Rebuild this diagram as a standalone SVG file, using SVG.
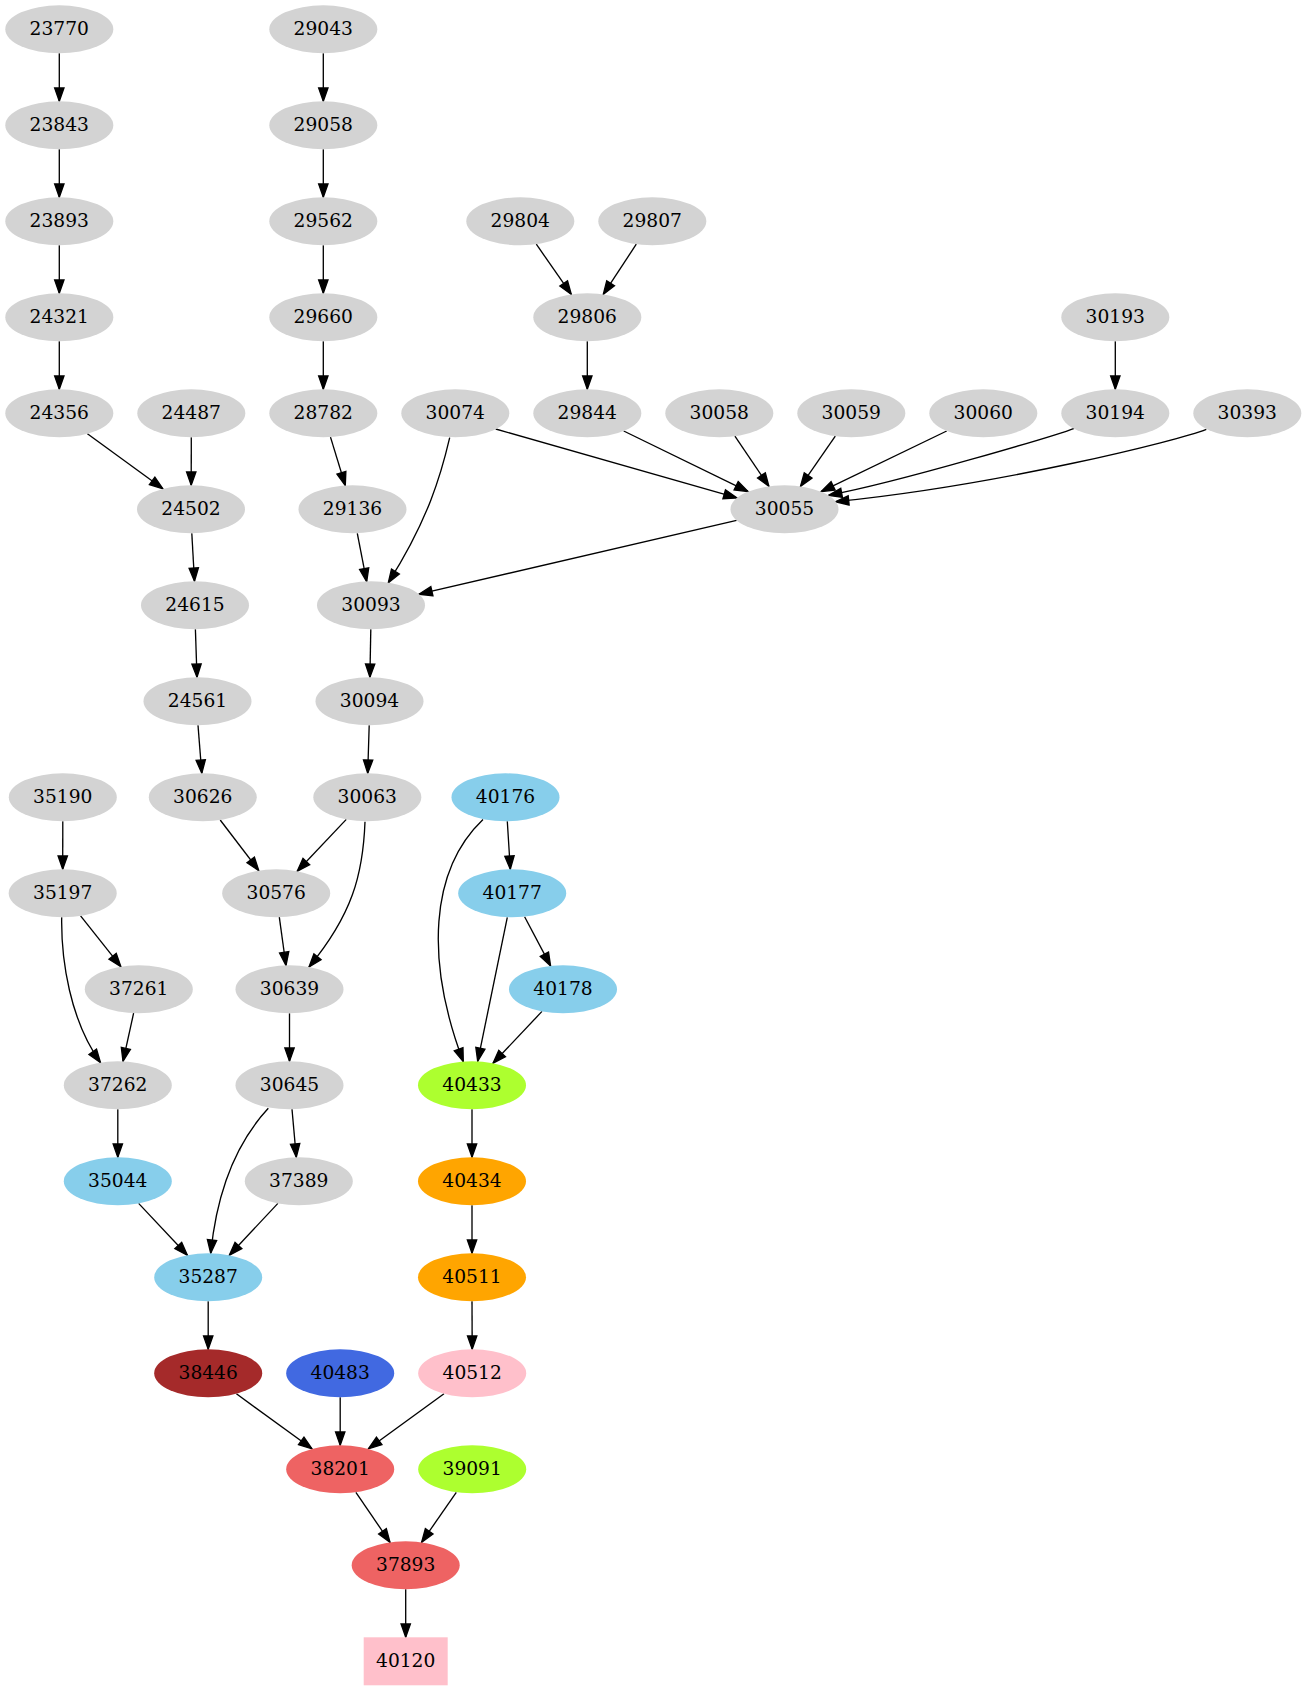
<svg xmlns="http://www.w3.org/2000/svg" width="1306" height="1691" viewBox="0 0 1306 1691">
<style>
.node text{font-family:"DejaVu Serif","Liberation Serif",serif;font-size:18.67px;text-anchor:middle;fill:#000}
.gray{fill:#d3d3d3}.sky{fill:#87ceeb}.lime{fill:#adff2f}.orange{fill:#ffa500}.pink{fill:#ffc0cb}.brown{fill:#a52a2a}.royal{fill:#4169e1}.red{fill:#ee6363}
#edges path{fill:none;stroke:#000;stroke-width:1.33;marker-end:url(#arr)}
</style>
<defs>
<marker id="arr" markerUnits="userSpaceOnUse" markerWidth="16" markerHeight="12" refX="13.33" refY="4.67" orient="auto" overflow="visible">
<path d="M0,0 L13.33,4.67 L0,9.33 Z" fill="#000" stroke="#000" stroke-width="1.33"/>
</marker>
</defs>
<rect width="1306" height="1691" fill="#fff"/>
<g id="edges">
<path d="M59.3,53.3 L59.3,101.3"/>
<path d="M59.3,149.3 L59.3,197.3"/>
<path d="M59.3,245.3 L59.3,293.3"/>
<path d="M59.3,341.3 L59.3,389.3"/>
<path d="M323.3,53.3 L323.3,101.3"/>
<path d="M323.3,149.3 L323.3,197.3"/>
<path d="M323.3,245.3 L323.3,293.3"/>
<path d="M323.3,341.3 L323.3,389.3"/>
<path d="M536.3,244.2 L571.3,294.4"/>
<path d="M636.3,244.2 L603.3,294.4"/>
<path d="M587.3,341.3 L587.3,389.3"/>
<path d="M1115.3,341.3 L1115.3,389.3"/>
<path d="M87.4,433.8 L162.9,488.8"/>
<path d="M191.3,437.3 L191.2,485.3"/>
<path d="M330.5,437.1 L345.3,485.5"/>
<path d="M449.7,437.7 C441,475 428,520 388.3,582.7"/>
<path d="M495.7,429 L737,497.9"/>
<path d="M623.7,431 L748.1,491.6"/>
<path d="M734.9,436.2 L768.9,486.4"/>
<path d="M835.3,436.2 L800.5,486.4"/>
<path d="M946.7,431 L821.1,491.6"/>
<path d="M1074.2,428.3 C1060,434 900,482 828.5,495.3"/>
<path d="M1206.3,429.3 C1180,440 1000,485 835.4,501.7"/>
<path d="M736.6,520.4 L418.9,594.2"/>
<path d="M357.3,533.3 L366.7,581.7"/>
<path d="M191.8,533.3 L194.5,581.3"/>
<path d="M195.4,629.3 L197,677.3"/>
<path d="M198,725.3 L201.8,773.3"/>
<path d="M370.8,629.3 L369.9,677.3"/>
<path d="M369.2,725.3 L367.7,773.3"/>
<path d="M220.2,820 L258.8,870.6"/>
<path d="M346.3,819.4 L297.2,871.2"/>
<path d="M365,821.7 C363,875 352,915 309,967"/>
<path d="M279.3,917.2 L286,965.5"/>
<path d="M62.8,821.3 L62.7,869.3"/>
<path d="M80.6,915.9 L120.9,966.7"/>
<path d="M61.7,917.3 C61,960 70,1020 100.5,1062.7"/>
<path d="M133.6,1013.2 L123,1061.4"/>
<path d="M289.5,1013.3 L289.5,1061.3"/>
<path d="M292,1109.3 L296.3,1157.3"/>
<path d="M268.3,1108.3 C236,1143 217,1190 210.7,1253.3"/>
<path d="M277.9,1203.4 L229.3,1255.2"/>
<path d="M117.8,1109.3 L117.8,1157.3"/>
<path d="M138.6,1203.4 L187.4,1255.2"/>
<path d="M507.3,821.3 L510.3,869.3"/>
<path d="M483,819.5 C430,870 425,960 463.3,1061.7"/>
<path d="M507.3,917.3 L477.7,1061.3"/>
<path d="M524.6,916.7 L550.6,965.9"/>
<path d="M542,1011.4 L493,1063.2"/>
<path d="M472,1109.3 L472,1157.3"/>
<path d="M472,1205.3 L472,1253.3"/>
<path d="M472,1301.3 L472.2,1349.3"/>
<path d="M208.2,1301.3 L208.2,1349.3"/>
<path d="M236.4,1393.8 L312,1448.8"/>
<path d="M340.2,1397.3 L340.2,1445.3"/>
<path d="M444,1393.8 L368.4,1448.8"/>
<path d="M355.9,1492.3 L390,1542.3"/>
<path d="M456.3,1492.3 L421.6,1542.3"/>
<path d="M405.7,1589.3 L405.7,1637.3"/>
</g>
<g id="n23770" class="node"><ellipse class="gray" cx="59.3" cy="29.3" rx="54" ry="24"/><text x="59.3" y="35.3">23770</text></g>
<g id="n29043" class="node"><ellipse class="gray" cx="323.3" cy="29.3" rx="54" ry="24"/><text x="323.3" y="35.3">29043</text></g>
<g id="n23843" class="node"><ellipse class="gray" cx="59.3" cy="125.3" rx="54" ry="24"/><text x="59.3" y="131.3">23843</text></g>
<g id="n29058" class="node"><ellipse class="gray" cx="323.3" cy="125.3" rx="54" ry="24"/><text x="323.3" y="131.3">29058</text></g>
<g id="n23893" class="node"><ellipse class="gray" cx="59.3" cy="221.3" rx="54" ry="24"/><text x="59.3" y="227.3">23893</text></g>
<g id="n29562" class="node"><ellipse class="gray" cx="323.3" cy="221.3" rx="54" ry="24"/><text x="323.3" y="227.3">29562</text></g>
<g id="n29804" class="node"><ellipse class="gray" cx="520.3" cy="221.3" rx="54" ry="24"/><text x="520.3" y="227.3">29804</text></g>
<g id="n29807" class="node"><ellipse class="gray" cx="652.3" cy="221.3" rx="54" ry="24"/><text x="652.3" y="227.3">29807</text></g>
<g id="n24321" class="node"><ellipse class="gray" cx="59.3" cy="317.3" rx="54" ry="24"/><text x="59.3" y="323.3">24321</text></g>
<g id="n29660" class="node"><ellipse class="gray" cx="323.3" cy="317.3" rx="54" ry="24"/><text x="323.3" y="323.3">29660</text></g>
<g id="n29806" class="node"><ellipse class="gray" cx="587.3" cy="317.3" rx="54" ry="24"/><text x="587.3" y="323.3">29806</text></g>
<g id="n30193" class="node"><ellipse class="gray" cx="1115.3" cy="317.3" rx="54" ry="24"/><text x="1115.3" y="323.3">30193</text></g>
<g id="n24356" class="node"><ellipse class="gray" cx="59.3" cy="413.3" rx="54" ry="24"/><text x="59.3" y="419.3">24356</text></g>
<g id="n24487" class="node"><ellipse class="gray" cx="191.3" cy="413.3" rx="54" ry="24"/><text x="191.3" y="419.3">24487</text></g>
<g id="n28782" class="node"><ellipse class="gray" cx="323.3" cy="413.3" rx="54" ry="24"/><text x="323.3" y="419.3">28782</text></g>
<g id="n30074" class="node"><ellipse class="gray" cx="455.3" cy="413.3" rx="54" ry="24"/><text x="455.3" y="419.3">30074</text></g>
<g id="n29844" class="node"><ellipse class="gray" cx="587.3" cy="413.3" rx="54" ry="24"/><text x="587.3" y="419.3">29844</text></g>
<g id="n30058" class="node"><ellipse class="gray" cx="719.3" cy="413.3" rx="54" ry="24"/><text x="719.3" y="419.3">30058</text></g>
<g id="n30059" class="node"><ellipse class="gray" cx="851.3" cy="413.3" rx="54" ry="24"/><text x="851.3" y="419.3">30059</text></g>
<g id="n30060" class="node"><ellipse class="gray" cx="983.3" cy="413.3" rx="54" ry="24"/><text x="983.3" y="419.3">30060</text></g>
<g id="n30194" class="node"><ellipse class="gray" cx="1115.3" cy="413.3" rx="54" ry="24"/><text x="1115.3" y="419.3">30194</text></g>
<g id="n30393" class="node"><ellipse class="gray" cx="1247.3" cy="413.3" rx="54" ry="24"/><text x="1247.3" y="419.3">30393</text></g>
<g id="n24502" class="node"><ellipse class="gray" cx="191" cy="509.3" rx="54" ry="24"/><text x="191" y="515.3">24502</text></g>
<g id="n29136" class="node"><ellipse class="gray" cx="352.5" cy="509.3" rx="54" ry="24"/><text x="352.5" y="515.3">29136</text></g>
<g id="n30055" class="node"><ellipse class="gray" cx="784.5" cy="509.3" rx="54" ry="24"/><text x="784.5" y="515.3">30055</text></g>
<g id="n24615" class="node"><ellipse class="gray" cx="195" cy="605.3" rx="54" ry="24"/><text x="195" y="611.3">24615</text></g>
<g id="n30093" class="node"><ellipse class="gray" cx="371" cy="605.3" rx="54" ry="24"/><text x="371" y="611.3">30093</text></g>
<g id="n24561" class="node"><ellipse class="gray" cx="197.5" cy="701.3" rx="54" ry="24"/><text x="197.5" y="707.3">24561</text></g>
<g id="n30094" class="node"><ellipse class="gray" cx="369.5" cy="701.3" rx="54" ry="24"/><text x="369.5" y="707.3">30094</text></g>
<g id="n35190" class="node"><ellipse class="gray" cx="62.8" cy="797.3" rx="54" ry="24"/><text x="62.8" y="803.3">35190</text></g>
<g id="n30626" class="node"><ellipse class="gray" cx="202.8" cy="797.3" rx="54" ry="24"/><text x="202.8" y="803.3">30626</text></g>
<g id="n30063" class="node"><ellipse class="gray" cx="367.3" cy="797.3" rx="54" ry="24"/><text x="367.3" y="803.3">30063</text></g>
<g id="n40176" class="node"><ellipse class="sky" cx="505.5" cy="797.3" rx="54" ry="24"/><text x="505.5" y="803.3">40176</text></g>
<g id="n35197" class="node"><ellipse class="gray" cx="62.7" cy="893.3" rx="54" ry="24"/><text x="62.7" y="899.3">35197</text></g>
<g id="n30576" class="node"><ellipse class="gray" cx="276.2" cy="893.3" rx="54" ry="24"/><text x="276.2" y="899.3">30576</text></g>
<g id="n40177" class="node"><ellipse class="sky" cx="512.2" cy="893.3" rx="54" ry="24"/><text x="512.2" y="899.3">40177</text></g>
<g id="n37261" class="node"><ellipse class="gray" cx="138.8" cy="989.3" rx="54" ry="24"/><text x="138.8" y="995.3">37261</text></g>
<g id="n30639" class="node"><ellipse class="gray" cx="289.5" cy="989.3" rx="54" ry="24"/><text x="289.5" y="995.3">30639</text></g>
<g id="n40178" class="node"><ellipse class="sky" cx="563" cy="989.3" rx="54" ry="24"/><text x="563" y="995.3">40178</text></g>
<g id="n37262" class="node"><ellipse class="gray" cx="117.8" cy="1085.3" rx="54" ry="24"/><text x="117.8" y="1091.3">37262</text></g>
<g id="n30645" class="node"><ellipse class="gray" cx="289.5" cy="1085.3" rx="54" ry="24"/><text x="289.5" y="1091.3">30645</text></g>
<g id="n40433" class="node"><ellipse class="lime" cx="472" cy="1085.3" rx="54" ry="24"/><text x="472" y="1091.3">40433</text></g>
<g id="n35044" class="node"><ellipse class="sky" cx="117.8" cy="1181.3" rx="54" ry="24"/><text x="117.8" y="1187.3">35044</text></g>
<g id="n37389" class="node"><ellipse class="gray" cx="298.8" cy="1181.3" rx="54" ry="24"/><text x="298.8" y="1187.3">37389</text></g>
<g id="n40434" class="node"><ellipse class="orange" cx="472" cy="1181.3" rx="54" ry="24"/><text x="472" y="1187.3">40434</text></g>
<g id="n35287" class="node"><ellipse class="sky" cx="208.2" cy="1277.3" rx="54" ry="24"/><text x="208.2" y="1283.3">35287</text></g>
<g id="n40511" class="node"><ellipse class="orange" cx="472" cy="1277.3" rx="54" ry="24"/><text x="472" y="1283.3">40511</text></g>
<g id="n38446" class="node"><ellipse class="brown" cx="208.2" cy="1373.3" rx="54" ry="24"/><text x="208.2" y="1379.3">38446</text></g>
<g id="n40483" class="node"><ellipse class="royal" cx="340.2" cy="1373.3" rx="54" ry="24"/><text x="340.2" y="1379.3">40483</text></g>
<g id="n40512" class="node"><ellipse class="pink" cx="472.2" cy="1373.3" rx="54" ry="24"/><text x="472.2" y="1379.3">40512</text></g>
<g id="n38201" class="node"><ellipse class="red" cx="340.2" cy="1469.3" rx="54" ry="24"/><text x="340.2" y="1475.3">38201</text></g>
<g id="n39091" class="node"><ellipse class="lime" cx="472.2" cy="1469.3" rx="54" ry="24"/><text x="472.2" y="1475.3">39091</text></g>
<g id="n37893" class="node"><ellipse class="red" cx="405.7" cy="1565.3" rx="54" ry="24"/><text x="405.7" y="1571.3">37893</text></g>
<g id="n40120" class="node"><rect class="pink" x="363.7" y="1637.3" width="84" height="48"/><text x="405.7" y="1667.3">40120</text></g>
</svg>
